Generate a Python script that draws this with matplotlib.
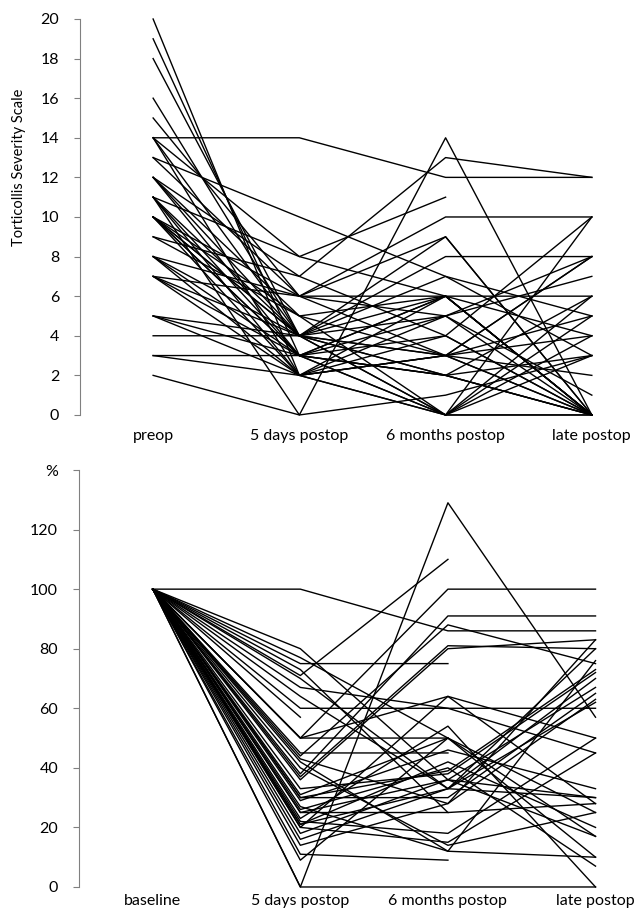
import matplotlib
matplotlib.use("Agg")
import matplotlib.pyplot as plt
import numpy as np

plt.rcParams["font.family"] = ["Lato", "DejaVu Sans"]

nan = np.nan

# top panel: raw Torticollis Severity Scale scores per patient
top_labels = ["preop", "5 days postop", "6 months postop", "late postop"]
preop = [20, 19, 18, 16, 15, 14, 14, 14, 13, 13, 12, 12, 12, 11, 11, 11, 11, 10, 10, 10, 10, 10,
         10, 9, 9, 8, 8, 8, 8, 7, 7, 7, 7, 5, 5, 5, 4, 3, 3, 2, 12, 10, 11, 14]
days5 = [2, 3, 4, 4, 6, 14, 8, 2, 10, 6, 7, 4, 3, 8, 4, 3, 0, 6, 5, 4, 3, 2,
         4, 7, 5, 6, 4, 3, 2, 6, 3, 2, 4, 4, 2, 3, 4, 3, 2, 0, 5, 3, 2, 4]
months6 = [3, 6, 2, 5, 3, 12, 6, 4, 7, 10, 13, 8, 0, 11, 9, 6, 14, 5, 3, 0, 2, 6,
           7, 4, 0, 9, 3, 2, 5, 6, 4, 0, 3, 2, 3, 0, 6, 2, 0, 1, 6, 5, 3, 0]
late = [0, 0, 3, 8, 5, 12, 0, 10, 5, 10, 12, 8, 6, nan, 0, 4, 0, 7, 8, 4, 6, 0,
        3, 0, 3, 0, 2, 0, 1, 0, 0, 5, 8, 0, 4, 10, 6, 0, 0, 3, 0, 0, 0, 0]

# bottom panel: percent of baseline
bot_labels = ["baseline", "5 days postop", "6 months postop", "late postop"]
pct_5d = [100, 0, 0, 80, 77, 75, 73, 71, 70, 67, 64, 60, 57, 50, 50, 50, 45, 44, 43, 40, 38, 37,
          33, 31, 30, 29, 27, 26, 25, 23, 22, 21, 21, 20, 20, 18, 16, 14, 11, 9, 36, 25, 42, 30]
pct_6m = [86, 129, 0, 36, 50, 75, 25, 110, 33, 60, 33, 60, nan, 64, 50, 100, 45, 88, 28, 14, 91, 81,
          38, 50, 30, 46, 12, 40, 25, 54, 18, 33, 42, 64, 15, 36, 33, 28, 9, 50, 80, 36, 12, 39]
pct_late = [86, 57, 0, 30, 17, nan, 28, nan, 62, 45, 70, 60, nan, 50, nan, 100, nan, 75, 83, 25, 91, 80,
            72, 10, 65, 33, 76, 7, nan, 0, 50, 80, 20, 28, 45, 17, 30, 63, nan, 25, 83, 67, 10, 73]

fig = plt.figure(figsize=(6.38, 9.13), dpi=100)
ax1 = fig.add_axes([0.1254, 0.5455, 0.871, 0.4337])
ax2 = fig.add_axes([0.1238, 0.0285, 0.879, 0.4567])

x = np.arange(4)
for row in zip(preop, days5, months6, late):
    ax1.plot(x, row, color="black", lw=1.0, clip_on=False)
for row in zip(pct_5d, pct_6m, pct_late):
    ax2.plot(x, [100] + list(row), color="black", lw=1.0, clip_on=False)

axis_grey = "#808080"
for ax, labels in [(ax1, top_labels), (ax2, bot_labels)]:
    ax.set_xlim(-0.5, 3.3)
    ax.set_xticks(x)
    ax.set_xticklabels(labels, fontsize=11.5)
    ax.tick_params(axis="y", length=4, color=axis_grey, pad=11, labelsize=11.5)
    for side in ["top", "right", "bottom"]:
        ax.spines[side].set_visible(False)
    ax.spines["left"].set_color(axis_grey)

ax1.tick_params(axis="x", length=0, pad=10)
ax2.tick_params(axis="x", length=0, pad=5)

ax1.set_ylim(0, 20)
ax1.set_yticks(range(0, 21, 2))
ax1.set_ylabel("Torticollis Severity Scale", fontsize=10.5)
ax1.yaxis.set_label_coords(-0.097, 0.626)

ax2.set_ylim(0, 140)
ax2.set_yticks(range(0, 141, 20))
ax2.set_yticklabels([str(v) for v in range(0, 121, 20)] + ["%"])

fig.savefig("out.png", dpi=100)
